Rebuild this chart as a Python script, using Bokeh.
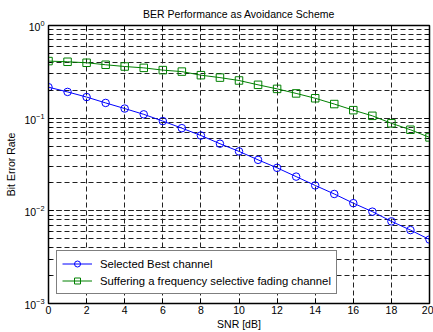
from bokeh.plotting import figure
from bokeh.models import (FixedTicker, Legend, LegendItem, Range1d, LinearAxis, LogAxis,
                          LogTicker, CustomJSTickFormatter)
from bokeh.embed import file_html
from bokeh.resources import INLINE

snr = list(range(0, 21))
ber_best = [0.216, 0.192, 0.169, 0.146, 0.127, 0.110, 0.093, 0.078, 0.065, 0.053,
            0.0438, 0.0355, 0.0291, 0.0234, 0.0188, 0.0152, 0.0121, 0.0098, 0.0077, 0.0062, 0.0049]
ber_fading = [0.413, 0.406, 0.396, 0.377, 0.361, 0.349, 0.330, 0.318, 0.291, 0.274,
              0.255, 0.229, 0.207, 0.185, 0.164, 0.142, 0.122, 0.106, 0.088, 0.075, 0.062]
x_ticks = [0, 2, 4, 6, 8, 10, 12, 14, 16, 18, 20]
title_text = "BER Performance as Avoidance Scheme"
x_label = "SNR [dB]"
y_label = "Bit Error Rate"
name_best = "Selected Best channel"
name_fading = "Suffering a frequency selective fading channel"

FONT = "Liberation Sans"

p = figure(width=433, height=332, y_axis_type="log", output_backend="svg",
           toolbar_location=None, x_range=Range1d(0, 20), y_range=Range1d(1e-3, 1),
           min_border_left=48, min_border_right=4, min_border_top=0, min_border_bottom=2)

p.title.text = title_text
p.title.align = "center"
p.title.text_font = FONT
p.title.text_font_size = "10.5px"
p.title.text_font_style = "normal"
p.title.text_color = "#000000"
p.title.offset = 0
p.title.standoff = 11

p.outline_line_color = "black"
p.outline_line_width = 1.5
p.background_fill_color = "white"
p.border_fill_color = "white"

# axes
xa = p.xaxis[0]
xa.ticker = FixedTicker(ticks=x_ticks)
xa.axis_label = x_label
ya = p.yaxis[0]
ya.axis_label = y_label
for ax in (xa, ya):
    ax.axis_label_text_font = FONT
    ax.axis_label_text_font_size = "10.5px"
    ax.axis_label_text_font_style = "normal"
    ax.axis_label_text_color = "black"
    ax.major_label_text_font = FONT
    ax.major_label_text_font_size = "10.5px"
    ax.major_label_text_color = "black"
    ax.axis_line_color = "black"
    ax.major_tick_in = 5
    ax.major_tick_out = 0
    ax.minor_tick_in = 3
    ax.minor_tick_out = 0
    ax.major_tick_line_color = "black"
    ax.minor_tick_line_color = "black"
xa.axis_label_standoff = 1
xa.major_label_standoff = 2
ya.axis_label_standoff = 4
ya.major_label_standoff = 4

top = LinearAxis(ticker=FixedTicker(ticks=x_ticks), formatter=CustomJSTickFormatter(code="return ''"),
                 major_tick_in=5, major_tick_out=0, minor_tick_in=0, minor_tick_out=0,
                 axis_line_color="black", major_tick_line_color="black",
                 major_label_standoff=0, major_label_text_font_size="1px")
right = LogAxis(ticker=LogTicker(), formatter=CustomJSTickFormatter(code="return ''"),
                major_tick_in=5, major_tick_out=0, minor_tick_in=3, minor_tick_out=0,
                axis_line_color="black", major_tick_line_color="black",
                minor_tick_line_color="black", major_label_standoff=0,
                major_label_text_font_size="1px")
p.extra_y_ranges = {"r": Range1d(1e-3, 1)}
p.extra_y_scales = {"r": p.y_scale.__class__()}
right.y_range_name = "r"
p.add_layout(top, "above")
p.add_layout(right, "right")

# grid
p.xgrid.ticker = FixedTicker(ticks=x_ticks[1:-1])
p.xgrid.grid_line_color = "#222222"
p.xgrid.grid_line_dash = "5 3"
p.xgrid.grid_line_width = 1
p.ygrid.grid_line_color = "#222222"
p.ygrid.grid_line_dash = "5 3"
p.ygrid.grid_line_width = 1
p.ygrid.minor_grid_line_color = "#222222"
p.ygrid.minor_grid_line_dash = "5 3"
p.ygrid.minor_grid_line_width = 1

l1 = p.line(snr, ber_best, line_color="#0000ff", line_width=1)
s1 = p.scatter(snr, ber_best, marker="circle", size=7.5, fill_color=None,
               line_color="#0000ff", line_width=1)
l2 = p.line(snr, ber_fading, line_color="#008000", line_width=1)
s2 = p.scatter(snr, ber_fading, marker="square", size=7.5, fill_color=None,
               line_color="#008000", line_width=1)

legend = Legend(items=[LegendItem(label=name_best, renderers=[l1, s1]),
                       LegendItem(label=name_fading, renderers=[l2, s2])],
                location=(8, 9))
legend.label_text_font = FONT
legend.label_text_font_size = "11.3px"
legend.label_text_color = "black"
legend.border_line_color = "black"
legend.border_line_width = 1
legend.background_fill_alpha = 1
legend.glyph_width = 30
legend.glyph_height = 15
legend.label_height = 15
legend.spacing = 2
legend.padding = 5
legend.margin = 0
legend.label_standoff = 8
p.add_layout(legend, "center")

open("out.html", "w").write(file_html(p, INLINE))
